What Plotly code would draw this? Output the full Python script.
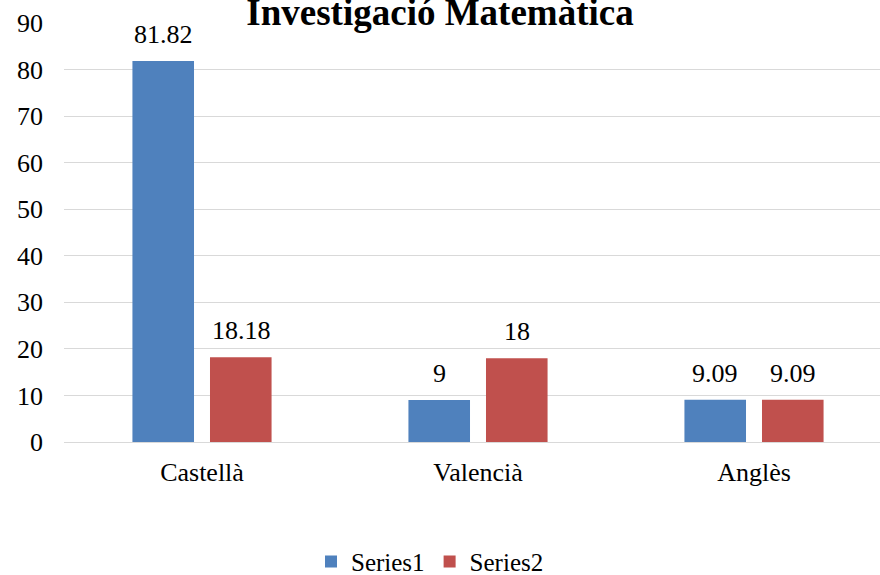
import plotly.graph_objects as go

categories = ["Castellà", "Valencià", "Anglès"]
series1 = [81.82, 9, 9.09]
series2 = [18.18, 18, 9.09]
series1_labels = ["81.82", "9", "9.09"]
series2_labels = ["18.18", "18", "9.09"]
y_ticks = [0, 10, 20, 30, 40, 50, 60, 70, 80, 90]

FONT = "Liberation Serif"
FS = 26
W = 892
L = 64

fig = go.Figure()
fig.add_trace(go.Bar(
    name="Series1", x=categories, y=series1,
    marker=dict(color="#4F81BD", line=dict(width=0)),
))
fig.add_trace(go.Bar(
    name="Series2", x=categories, y=series2,
    marker=dict(color="#C0504D", line=dict(width=0)),
))

annotations = []
for cat, v, lab in zip(categories, series1, series1_labels):
    annotations.append(dict(x=cat, y=v, xref="x", yref="y", text=lab, showarrow=False,
                            xshift=-39, yshift=10, yanchor="bottom", xanchor="center",
                            font=dict(family=FONT, size=FS, color="#000000")))
for cat, v, lab in zip(categories, series2, series2_labels):
    annotations.append(dict(x=cat, y=v, xref="x", yref="y", text=lab, showarrow=False,
                            xshift=39, yshift=10, yanchor="bottom", xanchor="center",
                            font=dict(family=FONT, size=FS, color="#000000")))

fig.update_layout(
    width=W, height=575,
    margin=dict(l=L, r=0, t=23, b=133, autoexpand=False),
    paper_bgcolor="white", plot_bgcolor="white",
    font=dict(family=FONT, size=FS, color="#000000"),
    barmode="group", bargap=0.438, bargroupgap=0.206,
    title=dict(text="<b>Investigació Matemàtica</b>", x=440 / W, xanchor="center",
               y=1 - 12 / 575, yanchor="middle", yref="container", automargin=False,
               font=dict(family=FONT, size=37, color="#000000")),
    showlegend=True,
    legend=dict(orientation="h", x=(430 - L) / (W - L), xanchor="center", y=-0.286,
                yanchor="middle",
                font=dict(family=FONT, size=25, color="#000000"),
                itemwidth=30, traceorder="normal"),
    annotations=annotations,
    xaxis=dict(showgrid=False, showline=False, zeroline=False, ticks="", automargin=False,
               ticklabelstandoff=12, tickfont=dict(family=FONT, size=FS)),
    yaxis=dict(range=[0, 90], tickvals=y_ticks, showgrid=True, gridcolor="#D9D9D9",
               gridwidth=1, zeroline=True, zerolinecolor="#D9D9D9", zerolinewidth=1,
               showline=False, ticks="", ticklabelstandoff=20, automargin=False,
               tickfont=dict(family=FONT, size=FS)),
)

fig.write_html("out.html", config={"displayModeBar": False},
               post_script="document.body.style.margin='0';document.body.style.padding='0';document.body.style.overflow='hidden';")
